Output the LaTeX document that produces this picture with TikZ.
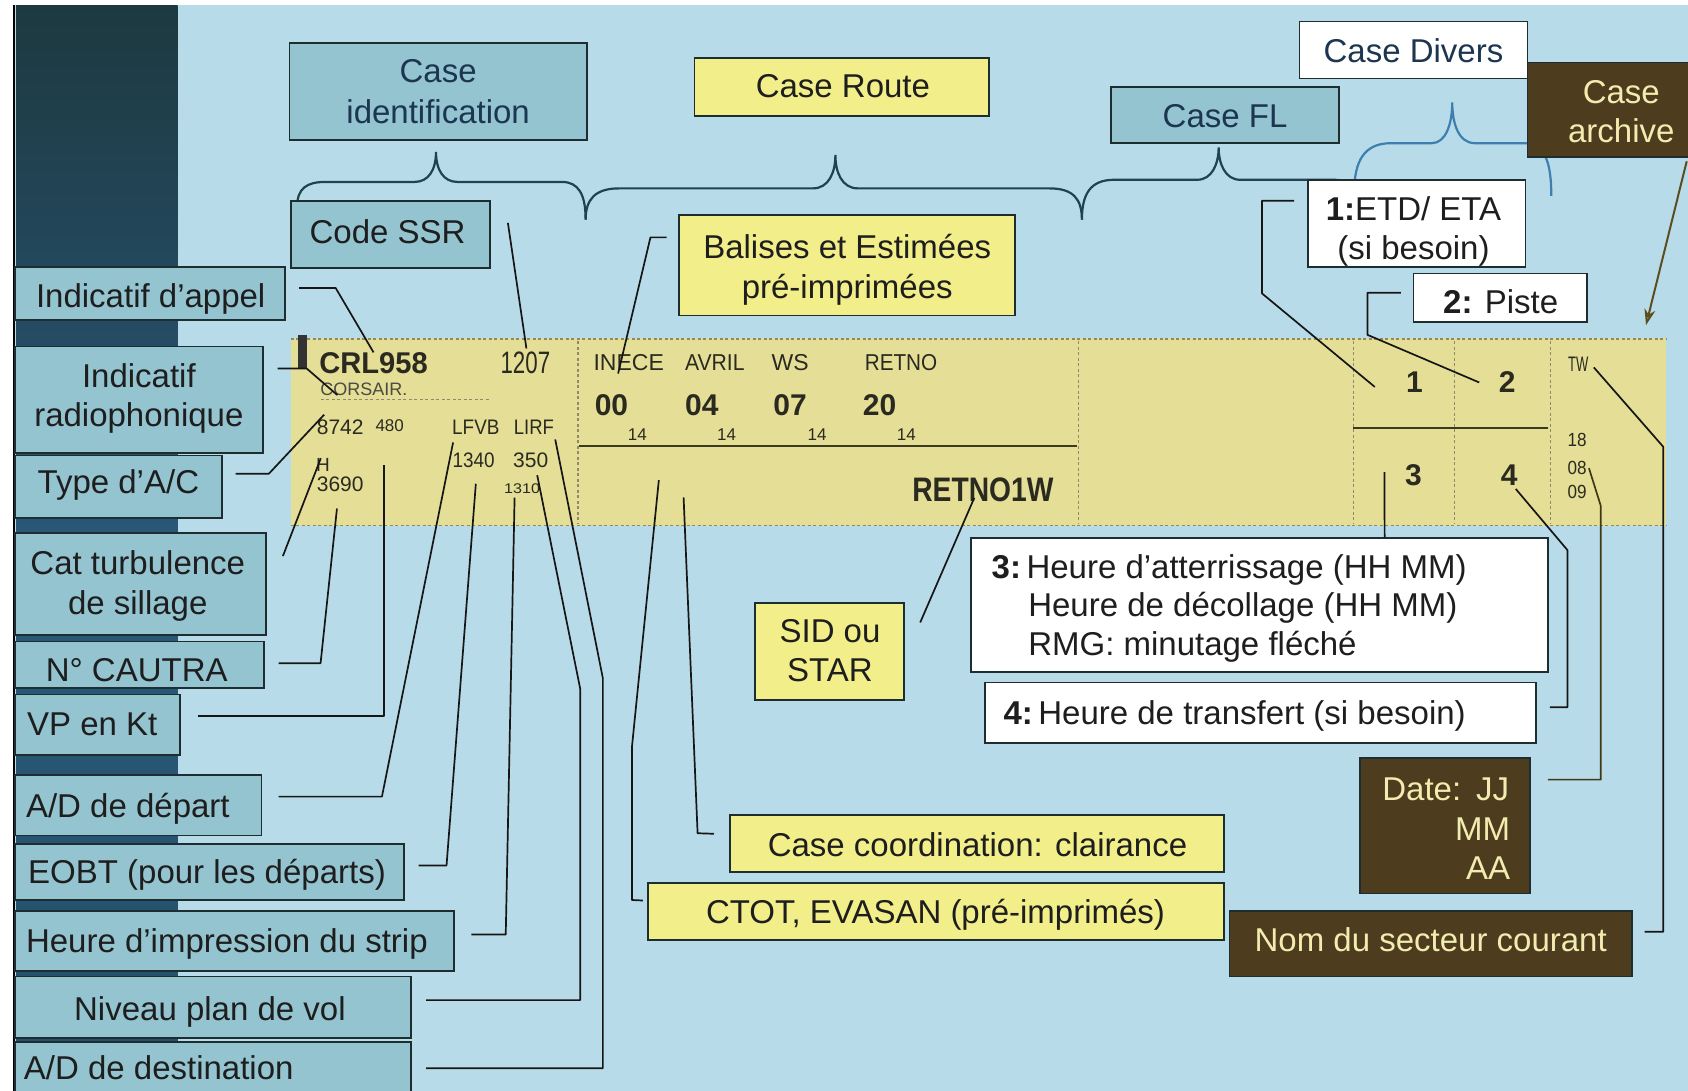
\documentclass[tikz,border=0pt]{standalone}
\usepackage{fontspec}
\setmainfont{Liberation Sans}
\usetikzlibrary{fit,calc,arrows.meta}
\definecolor{bgc}{HTML}{B8DBE9}
\definecolor{tealc}{HTML}{93C4D0}
\definecolor{yelc}{HTML}{F2EE8A}
\definecolor{stripc}{HTML}{E4DE96}
\definecolor{brnc}{HTML}{4D3D1E}
\definecolor{brntxt}{HTML}{F2ECB0}
\definecolor{bordc}{HTML}{1E2E30}
\definecolor{linec}{HTML}{161616}
\definecolor{bandtop}{HTML}{1D3940}
\definecolor{bandmid}{HTML}{2A587A}
\definecolor{bandbot}{HTML}{23506A}
\definecolor{navytxt}{HTML}{1C3550}
\definecolor{labtxt}{HTML}{1E1E1E}
\definecolor{divbrace}{HTML}{3D7FAE}
\definecolor{bracec}{HTML}{1F4450}
\definecolor{sttxt}{HTML}{2A2A20}
\definecolor{dashc}{HTML}{8C8A6A}
\definecolor{slinec}{HTML}{3A3A22}
\definecolor{arrc}{HTML}{5B4E1E}
\definecolor{arrfill}{HTML}{C8B43A}
\newcommand\fz[1]{\fontsize{#1}{#1}\selectfont}
\tikzset{
  box/.style={draw=bordc, line width=1.7pt, inner sep=0pt},
  tbox/.style={box, fill=tealc},
  ybox/.style={box, fill=yelc},
  wbox/.style={box, fill=white},
  brbox/.style={box, fill=brnc},
  lbl/.style={inner sep=0pt, font=\fz{33}, text=labtxt, anchor=base},
  navytext/.style={text=navytxt},
  brtext/.style={text=brntxt},
  stx/.style={inner sep=0pt, text=sttxt, anchor=base},
  conn/.style={draw=linec, line width=1.7pt, line join=round},
  brc/.style={draw=bracec, line width=2.2pt},
  sdash/.style={draw=dashc, line width=1.3pt, dash pattern=on 3pt off 2.5pt},
}
\begin{document}
\begin{tikzpicture}[x=1.0765pt,y=-1.0765pt]
\useasboundingbox (0,0) rectangle (1568,1013);
% background
\fill[white] (0,0) rectangle (1568,1013);
\fill[bgc] (14,5) rectangle (1568,1013);
\shade[top color=bandtop, bottom color=bandbot, middle color=bandmid] (15,5) rectangle (165,1013);
\draw[black, line width=2pt] (13,5) -- (13,1013);

% strip
\fill[stripc] (270,314) rectangle (1548,489);
\draw[sdash] (270,315) -- (1548,315);
\draw[sdash] (270,488) -- (1548,488);
\foreach \xx in {537,1002,1257,1351,1440} \draw[sdash] (\xx,317) -- (\xx,486);
\draw[sdash] (298,371) -- (455,371);
\draw[draw=slinec, line width=2pt] (538,414) -- (1000,414);
\draw[draw=slinec, line width=2pt] (1257,398) -- (1438,398);
\fill[black!80] (277,311) rectangle (285,342);

% strip texts
\node[stx, font=\bfseries\fz{30}, xscale=.97] (crl) at (347,347) {CRL958};
\node[stx, font=\fz{31}, xscale=.72] (n1207) at (488,347) {1207};
\node[stx, font=\fz{18}, text=sttxt!85] (corsair) at (338,367) {CORSAIR.};
\node[stx, font=\fz{21}] (n8742) at (316,404) {8742};
\node[stx, font=\fz{17}] (n480) at (362,401) {480};
\node[stx, font=\fz{21}, xscale=.9] (lfvb) at (442,404) {LFVB};
\node[stx, font=\fz{21}, xscale=.88] (lirf) at (496,404) {LIRF};
\node[stx, font=\fz{19}] (hcat) at (300,438) {H};
\node[stx, font=\fz{21}] (n3690) at (316,457) {3690};
\node[stx, font=\fz{21}, xscale=.9] (n1340) at (440,434) {1340};
\node[stx, font=\fz{21}] (n350) at (493,434) {350};
\node[stx, font=\fz{14}, xscale=1.15] (n1310) at (485,458) {1310};
\node[stx, font=\fz{23}] (inece) at (584,344) {INECE};
\node[stx, font=\fz{23}, xscale=.92] (avril) at (664,344) {AVRIL};
\node[stx, font=\fz{23}] (ws) at (734,344) {WS};
\node[stx, font=\fz{23}, xscale=.9] (retno) at (837,344) {RETNO};
\node[stx, font=\bfseries\fz{30}] (d00) at (568,386) {00};
\node[stx, font=\bfseries\fz{30}] (d04) at (652,386) {04};
\node[stx, font=\bfseries\fz{30}] (d07) at (734,386) {07};
\node[stx, font=\bfseries\fz{30}] (d20) at (817,386) {20};
\node[stx, font=\fz{17}] (fa) at (592,409) {14};
\node[stx, font=\fz{17}] (fb) at (675,409) {14};
\node[stx, font=\fz{17}] (fc) at (759,409) {14};
\node[stx, font=\fz{17}] (fd) at (842,409) {14};
\node[stx, font=\bfseries\fz{34}, xscale=.83] (retnow) at (913,466) {RETNO1W};
\node[stx, font=\bfseries\fz{30}] (n1) at (1314,365) {1};
\node[stx, font=\bfseries\fz{30}] (n2) at (1400,365) {2};
\node[stx, font=\bfseries\fz{30}] (n3) at (1313,451) {3};
\node[stx, font=\bfseries\fz{30}] (n4) at (1402,451) {4};
\node[stx, font=\fz{21}, xscale=.62] (tw) at (1466,345) {TW};
\node[stx, font=\fz{19}, xscale=.9] (n18) at (1465,415) {18};
\node[stx, font=\fz{19}, xscale=.9] (n08) at (1465,441) {08};
\node[stx, font=\fz{19}, xscale=.9] (n09) at (1465,463) {09};

% braces
\draw[brc] (276,192) .. controls (276,175) and (285,169) .. (302,169) -- (385,169)
  .. controls (398,169) and (405,158) .. (405,141) .. controls (405,158) and (412,169) .. (425,169)
  -- (522,169) .. controls (537,169) and (544,180) .. (544,204);
\draw[brc] (544,204) .. controls (544,185) and (553,175) .. (575,175) -- (755,175)
  .. controls (770,175) and (776,160) .. (776,144) .. controls (776,160) and (782,175) .. (797,175)
  -- (975,175) .. controls (997,175) and (1005,185) .. (1005,204);
\draw[brc] (1005,204) .. controls (1005,180) and (1013,167) .. (1035,167) -- (1112,167)
  .. controls (1126,167) and (1132,152) .. (1132,137) .. controls (1132,152) and (1138,167) .. (1152,167)
  -- (1240,167) .. controls (1250,167) and (1255,172) .. (1258,180);
\draw[brc, draw=divbrace] (1258,178) .. controls (1258,150) and (1267,133) .. (1292,133) -- (1330,133)
  .. controls (1343,133) and (1349,115) .. (1349,95) .. controls (1349,115) and (1355,133) .. (1370,133)
  -- (1415,133) .. controls (1435,133) and (1441,150) .. (1441,182);

% top boxes
\node[tbox, fit={(269,40) (545,130)}] (cid) {};
\node[lbl, navytext] (cid1) at (407,77) {Case};
\node[lbl, navytext] (cid2) at (407,115) {identification};
\node[ybox, fit={(645,54) (919,108)}] (croute) {};
\node[lbl] (crouteT) at (783,91) {Case Route};
\node[tbox, fit={(1032,81) (1244,133)}] (cfl) {};
\node[lbl, navytext] (cflT) at (1138,118) {Case FL};
\node[wbox, fit={(1207,20) (1419,73)}] (cdiv) {};
\node[lbl, navytext] (cdivT) at (1313,58) {Case Divers};
\node[brbox, fit={(1419,58) (1570,146)}] (carch) {};
\node[lbl, brtext] (carch1) at (1506,96) {Case};
\node[lbl, brtext] (carch2) at (1506,132) {archive};
\node[tbox, fit={(270,187) (455,249)}] (cssr) {};
\node[lbl] (cssrT) at (360,226) {Code SSR};
\node[ybox, fit={(631,200) (943,293)}] (bal) {};
\node[lbl] (bal1) at (787,240) {Balises et Estimées};
\node[lbl] (bal2) at (787,277) {pré-imprimées};
\node[wbox, fit={(1215,167) (1417,248)}] (etd) {};
\node[lbl] (etd1) at (1313,205) {\textbf{1:}ETD/ ETA};
\node[lbl] (etd2) at (1313,241) {(si besoin)};
\node[wbox, fit={(1313,254) (1474,299)}] (piste) {};
\node[lbl] (pisteT) at (1394,291) {\textbf{2:} Piste};

% left boxes
\node[tbox, fit={(14,248) (265,297)}] (lA) {};
\node[lbl] (lAt) at (140,286) {Indicatif d'appel};
\node[tbox, fit={(14,322) (244,421)}] (lB) {};
\node[lbl] (lBt1) at (129,360) {Indicatif};
\node[lbl] (lBt2) at (129,396) {radiophonique};
\node[tbox, fit={(14,423) (206,481)}] (lC) {};
\node[lbl] (lCt) at (110,458) {Type d'A/C};
\node[tbox, fit={(14,495) (247,590)}] (lD) {};
\node[lbl] (lDt1) at (128,534) {Cat turbulence};
\node[lbl] (lDt2) at (128,571) {de sillage};
\node[tbox, fit={(14,596) (245,639)}] (lE) {};
\node[lbl] (lEt) at (127,633) {N° CAUTRA};
\node[tbox, fit={(14,645) (167,701)}] (lF) {};
\node[lbl, anchor=base west] (lFt) at (25,683) {VP en Kt};
\node[tbox, fit={(14,720) (243,776)}] (lG) {};
\node[lbl, anchor=base west] (lGt) at (24,759) {A/D de départ};
\node[tbox, fit={(14,784) (375,836)}] (lH) {};
\node[lbl, anchor=base west] (lHt) at (26,821) {EOBT (pour les départs)};
\node[tbox, fit={(14,846) (422,902)}] (lI) {};
\node[lbl, anchor=base west] (lIt) at (24,885) {Heure d'impression du strip};
\node[tbox, fit={(14,907) (382,964)}] (lJ) {};
\node[lbl] (lJt) at (195,948) {Niveau plan de vol};
\node[tbox, fit={(14,968) (382,1018)}] (lK) {};
\node[lbl, anchor=base west] (lKt) at (22,1003) {A/D de destination};

% bottom / right boxes
\node[ybox, fit={(701,560) (840,650)}] (sid) {};
\node[lbl] (sid1) at (771,597) {SID ou};
\node[lbl] (sid2) at (771,633) {STAR};
\node[wbox, fit={(902,500) (1438,624)}] (box3) {};
\node[lbl, anchor=base west] (t3a) at (921,537) {\textbf{3:}\,Heure d’atterrissage (HH MM)};
\node[lbl, anchor=base west] (t3b) at (955,573) {Heure de décollage (HH MM)};
\node[lbl, anchor=base west] (t3c) at (955,609) {RMG: minutage fléché};
\node[wbox, fit={(915,634) (1427,690)}] (box4) {};
\node[lbl, anchor=base west] (t4) at (932,673) {\textbf{4:}\,Heure de transfert (si besoin)};
\node[brbox, fit={(1263,704) (1421,830)}] (datebox) {};
\node[lbl, brtext, anchor=base east] (date1) at (1402,744) {Date:\hspace{0.45em}JJ};
\node[lbl, brtext, anchor=base east] (date2) at (1403,781) {MM};
\node[lbl, brtext, anchor=base east] (date3) at (1403,817) {AA};
\node[brbox, fit={(1142,846) (1516,907)}] (nombox) {};
\node[lbl, brtext] (nomT) at (1329,884) {Nom du secteur courant};
\node[ybox, fit={(678,757) (1137,810)}] (ccbox) {};
\node[lbl] (ccT) at (908,796) {Case coordination: clairance};
\node[ybox, fit={(602,820) (1137,873)}] (ctotbox) {};
\node[lbl] (ctotT) at (869,858) {CTOT, EVASAN (pré-imprimés)};

% free ends
\coordinate (pCT) at (612,446);
\coordinate (pCC) at (635,462);
\coordinate (arrTip) at (1529,302);

% connectors
\draw[conn] ($(lA.east)+(12,-5)$) -- ++(34,0) -- (crl.north);
\draw[conn] ($(lB.north east)+(13,21)$) -- ++(27,0) -- ($(corsair.base west)+(16,0)$);
\draw[conn] ($(lC.east)+(12,-12)$) -- ++(31,0) -- ($(n8742.north west)+(7,-5)$);
\draw[conn] ($(lD.east)+(15,-26)$) -- ($(hcat.north)+(-2,0)$);
\draw[conn] ($(lE.east)+(13,-1.5)$) -- ++(39,0) -- ($(n3690.south)+(-3,15)$);
\draw[conn] ($(lF.east)+(16,-8)$) -| ($(n480.south)+(-5,31)$);
\draw[conn] ($(lG.east)+(15,-8)$) -- ++(96,0) -- ($(lfvb.base west)+(1,7)$);
\draw[conn] ($(lH.east)+(13,-6)$) -- ++(26,0) -- ($(n1340.south)+(2,15)$);
\draw[conn] ($(lI.east)+(15,-6)$) -- ++(32,0) -- ($(n1310.south)+(-7,4)$);
\draw[conn] ($(lJ.east)+(13,-6.5)$) -| (539,640) -- ($(n350.south)+(6,7)$);
\draw[conn] ($(lK.north east)+(13,25)$) -| (560,630) -- ($(lirf.south east)+(1,4)$);
\draw[conn] ($(cssr.east)+(16,-11)$) -- ($(n1207.north)+(1,-3)$);
\draw[conn] ($(bal.west)+(-11,-26)$) -- ++(-15,0) -- ($(inece.base west)+(23,3)$);
\draw[conn] (pCT) -- (587,694) -- (587,836) -- ($(ctotbox.west)+(-4,-10)$);
\draw[conn] (pCC) -- (648,774) -- ($(ccbox.west)+(-14,-9)$);
\draw[conn] ($(sid.north east)+(14,19)$) -- ($(retnow.south)+(-8,-4)$);
\draw[conn] ($(box3.north west)+(385,0)$) -- ($(n3.south)+(-27,-13)$);
\draw[conn] ($(box4.east)+(12,-5)$) -| (1456,511) -- ($(n4.south)+(6,3)$);
\draw[conn, draw=arrc!70!black] ($(datebox.north east)+(16,21)$) -| (1487,470) -- ($(n08.east)+(2,0)$);
\draw[conn] ($(nombox.east)+(11,-11)$) -| (1545,415) -- ($(tw.east)+(5,3)$);
\draw[conn] ($(etd.west)+(-12,-21)$) -- ++(-30,0) -- ++(0,86) -- ($(n1.west)+(-29,4)$);
\draw[conn] ($(piste.west)+(-11,-4.5)$) -- ++(-31,0) -- ++(0,39) -- ($(n2.west)+(-18,0)$);
\draw[draw=arrc, line width=2pt, -{Stealth[length=16pt,width=11pt,fill=arrfill]}] ($(carch.south east)+(-4,3)$) -- (arrTip);
\end{tikzpicture}
\end{document}
